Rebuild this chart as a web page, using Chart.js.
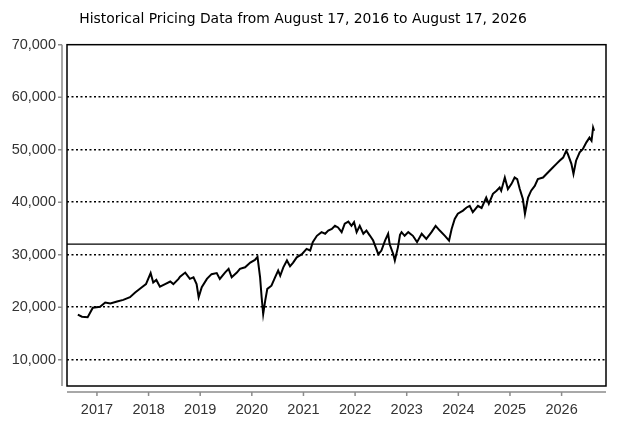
<!DOCTYPE html>
<html>
<head>
<meta charset="utf-8">
<script src="https://cdn.jsdelivr.net/npm/chart.js@4.4.1/dist/chart.umd.min.js"></script>
<style>
  html, body { margin: 0; padding: 0; background: #fff; }
  #wrap { width: 619px; height: 428px; position: relative; }
</style>
</head>
<body>
<div id="wrap"><canvas id="history"></canvas></div>
<script>
// values (x = decimal year)
var years = [2016.63, 2016.71, 2016.82, 2016.87, 2016.92, 2017.06, 2017.16, 2017.26, 2017.39, 2017.51,
  2017.64, 2017.74, 2017.87, 2017.95, 2018.04, 2018.09, 2018.15, 2018.22, 2018.32, 2018.42,
  2018.48, 2018.58, 2018.61, 2018.71, 2018.80, 2018.87, 2018.93, 2018.97, 2019.03, 2019.13,
  2019.22, 2019.32, 2019.38, 2019.48, 2019.55, 2019.61, 2019.71, 2019.77, 2019.87, 2019.97,
  2020.06, 2020.11, 2020.16, 2020.19, 2020.22, 2020.26, 2020.30, 2020.38, 2020.45, 2020.51,
  2020.55, 2020.61, 2020.68, 2020.74, 2020.80, 2020.87, 2020.97, 2021.06, 2021.13, 2021.18,
  2021.26, 2021.35, 2021.42, 2021.48, 2021.55, 2021.61, 2021.67, 2021.74, 2021.80, 2021.87,
  2021.93, 2021.98, 2022.03, 2022.09, 2022.16, 2022.22, 2022.29, 2022.35, 2022.40, 2022.45,
  2022.51, 2022.58, 2022.64, 2022.67, 2022.74, 2022.77, 2022.83, 2022.87, 2022.90, 2022.96,
  2023.03, 2023.12, 2023.20, 2023.29, 2023.38, 2023.48, 2023.56, 2023.64, 2023.74, 2023.82,
  2023.87, 2023.93, 2023.99, 2024.09, 2024.16, 2024.22, 2024.28, 2024.38, 2024.45, 2024.54,
  2024.59, 2024.67, 2024.74, 2024.80, 2024.83, 2024.90, 2024.96, 2025.03, 2025.09, 2025.14,
  2025.19, 2025.25, 2025.29, 2025.35, 2025.41, 2025.48, 2025.54, 2025.64, 2025.74, 2025.83,
  2025.90, 2025.96, 2026.03, 2026.09, 2026.12, 2026.19, 2026.23, 2026.28, 2026.35, 2026.41,
  2026.48, 2026.54, 2026.58, 2026.61, 2026.63];
var prices = [18600, 18200, 18100, 19000, 19900, 20100, 20900, 20700, 21100, 21400,
  21900, 22800, 23800, 24400, 26500, 24700, 25200, 23900, 24400, 24900,
  24400, 25400, 25800, 26600, 25400, 25700, 24400, 21900, 23800, 25400,
  26300, 26500, 25400, 26600, 27300, 25700, 26600, 27300, 27600, 28500,
  29000, 29600, 25700, 21900, 18700, 21300, 23500, 24100, 25700, 27000,
  26000, 27600, 28900, 27800, 28500, 29500, 30100, 31100, 30800, 32400,
  33600, 34300, 34000, 34600, 34900, 35500, 35200, 34300, 35900, 36300,
  35500, 36200, 34300, 35500, 34000, 34600, 33600, 32700, 31400, 30100,
  30800, 32700, 34000, 32000, 30100, 28900, 31400, 33800, 34300, 33600,
  34300, 33600, 32400, 34000, 33000, 34300, 35500, 34600, 33600, 32700,
  34900, 36800, 37800, 38400, 39000, 39300, 38100, 39300, 38900, 40900,
  39700, 41600, 42200, 42800, 42200, 44700, 42500, 43500, 44700, 44400,
  42500, 40600, 37800, 40900, 42200, 43100, 44400, 44700, 45700, 46600,
  47300, 47900, 48500, 49800, 49200, 47300, 45400, 47900, 49500, 50100,
  51400, 52300, 51700, 54200, 53600];
var refLevel = 32000;
var yearTicks = [2017, 2018, 2019, 2020, 2021, 2022, 2023, 2024, 2025, 2026];
var priceTicks = [10000, 20000, 30000, 40000, 50000, 60000, 70000];
var xMin = 2016.42, xMax = 2026.86;

// box round the plot, axis lines set off from it, with small ticks
var frame = {
  id: 'frame',
  afterDatasetsDraw: function(chart) {
    var ctx = chart.ctx, a = chart.chartArea, x = chart.scales.x, y = chart.scales.y;
    ctx.save();
    ctx.strokeStyle = '#000';
    ctx.lineWidth = 1.5;
    ctx.strokeRect(a.left, a.top, a.right - a.left, a.bottom - a.top);
    ctx.strokeStyle = '#8c8c8c';
    ctx.lineWidth = 1.5;
    ctx.beginPath();
    ctx.moveTo(a.left - 5, a.top);
    ctx.lineTo(a.left - 5, a.bottom);
    y.ticks.forEach(function(t) {
      var py = y.getPixelForValue(t.value);
      ctx.moveTo(a.left - 9, py);
      ctx.lineTo(a.left - 5, py);
    });
    ctx.moveTo(a.left, a.bottom + 6);
    ctx.lineTo(a.right, a.bottom + 6);
    x.ticks.forEach(function(t) {
      var px = x.getPixelForValue(t.value);
      ctx.moveTo(px, a.bottom + 6);
      ctx.lineTo(px, a.bottom + 10);
    });
    ctx.stroke();
    ctx.restore();
  }
};

var ctx = document.getElementById('history').getContext('2d');
var chart = new Chart(ctx, {
  type: 'line',
  data: {
    datasets: [{
      data: years.map(function(t, i) { return {x: t, y: prices[i]}; }),
      borderColor: '#000',
      borderWidth: 2,
      borderJoinStyle: 'miter',
      pointRadius: 0,
      tension: 0
    }, {
      data: [{x: xMin, y: refLevel}, {x: xMax, y: refLevel}],
      borderColor: '#000',
      borderWidth: 1.3,
      pointRadius: 0
    }]
  },
  options: {
    responsive: true,
    maintainAspectRatio: false,
    animation: false,
    layout: { padding: { left: 0, right: 13, top: 0, bottom: 0 } },
    plugins: {
      legend: { display: false },
      tooltip: { enabled: false },
      title: {
        display: true,
        text: 'Historical Pricing Data from August 17, 2016 to August 17, 2026',
        color: '#000',
        font: { family: 'DejaVu Sans', size: 13.9, weight: 'normal' },
        padding: { top: 11, bottom: 17 }
      }
    },
    scales: {
      x: {
        type: 'linear',
        min: xMin,
        max: xMax,
        afterBuildTicks: function(s) { s.ticks = yearTicks.map(function(v) { return {value: v}; }); },
        afterFit: function(s) { s.height = 42; },
        grid: { display: false, drawTicks: false },
        border: { display: false },
        ticks: {
          padding: 15,
          color: '#333',
          font: { family: 'Liberation Sans', size: 14.5 },
          maxRotation: 0,
          callback: function(v) { return String(v); }
        }
      },
      y: {
        min: 5000,
        max: 70000,
        afterBuildTicks: function(s) { s.ticks = priceTicks.map(function(v) { return {value: v}; }); },
        afterFit: function(s) { s.width = 67; },
        grid: {
          drawTicks: false,
          lineWidth: 1.5,
          color: function(c) { return c.tick && c.tick.value === 70000 ? 'rgba(0,0,0,0)' : '#000'; }
        },
        border: { display: false, dash: [2, 2.5] },
        ticks: {
          padding: 11,
          color: '#333',
          font: { family: 'Liberation Sans', size: 14.5 },
          callback: function(v) { return v.toLocaleString('en-US'); }
        }
      }
    }
  },
  plugins: [frame]
});
</script>
</body>
</html>
